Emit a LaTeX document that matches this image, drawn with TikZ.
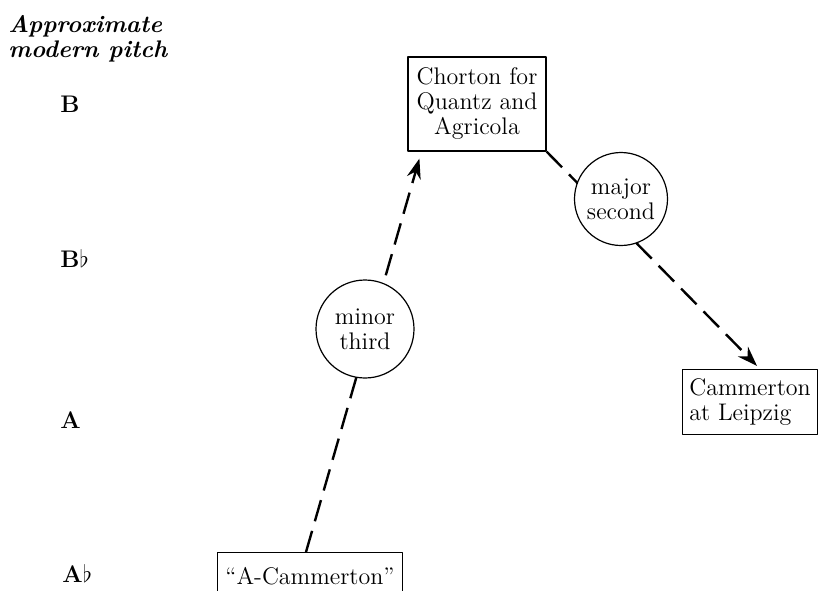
\documentclass[tikz,border=0pt]{standalone}
\usepackage{tikz}
\usetikzlibrary{arrows.meta,calc,backgrounds}

\tikzset{
  pitchbox/.style={draw,line width=0.6pt,inner sep=3pt,align=center},
  intervalring/.style={draw,circle,line width=0.6pt,fill=white,inner sep=1pt,align=center},
  pitchlabel/.style={anchor=base west,inner sep=0pt,font=\fontsize{12}{14}\selectfont\bfseries},
  shiftline/.style={line width=1.2pt,dash pattern=on 11pt off 5pt,-{Stealth[length=10pt,width=7pt]}}
}

\begin{document}
\begin{tikzpicture}[x=0.5pt,y=-0.5pt,line cap=round,line join=round,font=\fontsize{12}{12.5}\selectfont]
\useasboundingbox (0,0) rectangle (819,590);
\clip (0,0) rectangle (819,590);
% pitch scale on the left
\node[anchor=north west,inner sep=0pt,align=left,font=\fontsize{12}{12.5}\selectfont\bfseries\itshape] (scalehead) at (8,15) {Approximate\\modern pitch};
\node[pitchlabel] (pB) at (60,112) {B};
\node[pitchlabel] (pBflat) at (60,267) {B$\flat$};
\node[pitchlabel] (pA) at (60,428) {A};
\node[pitchlabel] (pAflat) at (62,582) {A$\flat$};
% pitch standards
\node[pitchbox,minimum width=69pt,minimum height=47pt] (chorton) at (477,104) {Chorton for\\Quantz and\\Agricola};
\node[pitchbox,align=left,minimum width=67.5pt,minimum height=32.5pt] (leip) at (750,402) {Cammerton\\at Leipzig};
\node[pitchbox,anchor=north,minimum width=92.5pt,minimum height=24pt] (acam) at (310,552) {``A-Cammerton''};
% intervals
\node[intervalring,minimum size=49pt] (minor) at (365,329) {minor\\third};
\node[intervalring,minimum size=46.5pt] (major) at (621,199) {major\\second};
\begin{scope}[on background layer]
\draw[shiftline] ($(acam.north)+(-4,0)$) -- ($(chorton.south west)+(12,7)$);
\draw[shiftline] (chorton.south east) -- ($(leip.north)+(7,-3)$);
\end{scope}
\end{tikzpicture}
\end{document}
